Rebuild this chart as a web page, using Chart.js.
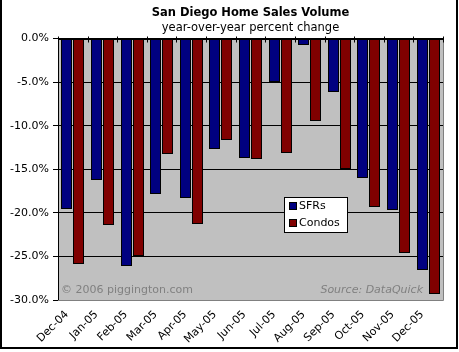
<!DOCTYPE html>
<html>
<head>
<meta charset="utf-8">
<script src="https://cdn.jsdelivr.net/npm/chart.js@4/dist/chart.umd.min.js"></script>
<style>
html,body{margin:0;padding:0;background:#fff;}
#wrap{position:relative;width:459px;height:352px;}
canvas{display:block;}
</style>
</head>
<body>
<div id="wrap"><canvas id="c" width="459" height="352"></canvas></div>
<script>
// ---- data ----
const categories = ["Dec-04","Jan-05","Feb-05","Mar-05","Apr-05","May-05","Jun-05","Jul-05","Aug-05","Sep-05","Oct-05","Nov-05","Dec-05"];
const sfrs   = [-19.5,-16.2,-26.1,-17.8,-18.3,-12.7,-13.7,-4.95,-0.75,-6.1,-16.0,-19.7,-26.5];
const condos = [-25.9,-21.4,-24.9,-13.2,-21.3,-11.6,-13.8,-13.1,-9.5,-15.0,-19.3,-24.6,-29.3];
const yTicks = [0,-5,-10,-15,-20,-25,-30];
const seriesNames = ["SFRs","Condos"];
const seriesColors = ["#000080","#800000"];
const titleText = "San Diego Home Sales Volume";
const subtitleText = "year-over-year percent change";
const creditText = "\u00a9 2006 piggington.com";
const sourceText = "Source: DataQuick";

const FONT = "'DejaVu Sans', Verdana, sans-serif";

const decor = {
  id: 'decor',
  beforeDraw(chart) {
    const {ctx, chartArea: a} = chart;
    ctx.save();
    ctx.fillStyle = '#C0C0C0';
    ctx.fillRect(a.left, a.top, a.right - a.left, a.bottom - a.top);
    ctx.restore();
  },
  beforeDatasetsDraw(chart) {
    // snap bar elements to whole pixels so borders stay crisp
    const xs = chart.scales.x, ys = chart.scales.y;
    const base = Math.round(ys.getPixelForValue(0));
    chart.data.datasets.forEach((ds, di) => {
      const meta = chart.getDatasetMeta(di);
      meta.data.forEach((el, i) => {
        const c = xs.getPixelForValue(i);
        const left = Math.round(c - 11.5) + di * 12;
        el.x = left + 5.5;
        el.width = 11;
        el.base = base;
        el.y = Math.round(el.y);
      });
    });
  },
  afterDatasetsDraw(chart) {
    const {ctx, chartArea: a} = chart;
    const xs = chart.scales.x;
    ctx.save();
    // plot area right & bottom border
    ctx.strokeStyle = '#808080';
    ctx.lineWidth = 1;
    ctx.beginPath();
    ctx.moveTo(Math.round(a.right) + 0.5, a.top);
    ctx.lineTo(Math.round(a.right) + 0.5, Math.round(a.bottom) + 0.5);
    ctx.lineTo(a.left, Math.round(a.bottom) + 0.5);
    ctx.stroke();
    // zero line
    const y0 = Math.round(chart.scales.y.getPixelForValue(0)) + 0.5;
    ctx.strokeStyle = '#000';
    ctx.beginPath();
    ctx.moveTo(a.left, y0); ctx.lineTo(a.right, y0);
    ctx.stroke();
    // category tick marks crossing the zero line
    ctx.beginPath();
    for (let i = 0; i <= categories.length; i++) {
      let px;
      if (i === 0) px = a.left;
      else if (i === categories.length) px = a.right;
      else px = (xs.getPixelForValue(i - 1) + xs.getPixelForValue(i)) / 2;
      px = Math.round(px) + 0.5;
      ctx.moveTo(px, y0 - 3); ctx.lineTo(px, y0 + 3);
    }
    ctx.stroke();
    // watermark texts
    ctx.fillStyle = '#808080';
    ctx.textBaseline = 'alphabetic';
    ctx.font = '11px ' + FONT;
    ctx.textAlign = 'left';
    ctx.fillText(creditText, a.left + 3, a.bottom - 7);
    ctx.font = 'italic 11px ' + FONT;
    ctx.textAlign = 'right';
    ctx.fillText(sourceText, a.right - 20, a.bottom - 7);
    // legend
    const lx = 284, ly = 197, lw = 63, lh = 35;
    ctx.fillStyle = '#fff';
    ctx.fillRect(lx, ly, lw, lh);
    ctx.strokeStyle = '#000';
    ctx.lineWidth = 1;
    ctx.strokeRect(lx + 0.5, ly + 0.5, lw, lh);
    ctx.font = '11px ' + FONT;
    ctx.textAlign = 'left';
    ctx.textBaseline = 'middle';
    for (let i = 0; i < seriesNames.length; i++) {
      const ry = ly + 9 + i * 17;
      ctx.fillStyle = seriesColors[i];
      ctx.fillRect(lx + 6, ry - 3, 6, 6);
      ctx.strokeStyle = '#000';
      ctx.strokeRect(lx + 5.5, ry - 3.5, 7, 7);
      ctx.fillStyle = '#000';
      ctx.fillText(seriesNames[i], lx + 15, ry + 0.5);
    }
    // outer border (left, right, bottom)
    ctx.fillStyle = '#000';
    ctx.fillRect(0, 0, 2, 349);
    ctx.fillRect(456, 0, 2, 349);
    ctx.fillRect(0, 347, 458, 2);
    ctx.restore();
  }
};

new Chart(document.getElementById('c'), {
  type: 'bar',
  data: {
    labels: categories,
    datasets: [
      {label: seriesNames[0], data: sfrs, backgroundColor: seriesColors[0], borderColor: '#000', borderWidth: 1, borderSkipped: false, inflateAmount: 0, categoryPercentage: 0.75, barPercentage: 0.92},
      {label: seriesNames[1], data: condos, backgroundColor: seriesColors[1], borderColor: '#000', borderWidth: 1, borderSkipped: false, inflateAmount: 0, categoryPercentage: 0.75, barPercentage: 0.92}
    ]
  },
  options: {
    responsive: false,
    animation: false,
    devicePixelRatio: 1,
    layout: {padding: {left: 0, right: 16, top: 0, bottom: 0}},
    plugins: {
      legend: {display: false},
      tooltip: {enabled: false},
      title: {display: true, text: titleText, fullSize: false, color: '#000', font: {family: FONT, size: 11.5, weight: 'bold'}, padding: {top: 6, bottom: 1}},
      subtitle: {display: true, text: subtitleText, fullSize: false, color: '#000', font: {family: FONT, size: 11.5}, padding: {top: 0, bottom: 4}}
    },
    scales: {
      x: {
        position: 'bottom',
        grid: {display: false, drawTicks: false},
        border: {display: false},
        ticks: {color: '#000', font: {family: FONT, size: 11}, maxRotation: 45, minRotation: 45, padding: 8, labelOffset: -6, autoSkip: false},
        afterFit(s) { s.height = 52; }
      },
      y: {
        min: -30, max: 0,
        afterBuildTicks(s) { s.ticks = yTicks.map(v => ({value: v})); },
        grid: {color: ctx => (ctx.tick && ctx.tick.value === -30) ? '#808080' : '#000', lineWidth: 1, drawTicks: true, tickLength: 5, tickColor: '#000'},
        border: {display: true, color: '#000'},
        ticks: {color: '#000', font: {family: FONT, size: 11}, padding: 4, callback: v => v.toFixed(1) + '%'},
        afterFit(s) { s.width = 58; }
      }
    }
  },
  plugins: [decor]
});
</script>
</body>
</html>
